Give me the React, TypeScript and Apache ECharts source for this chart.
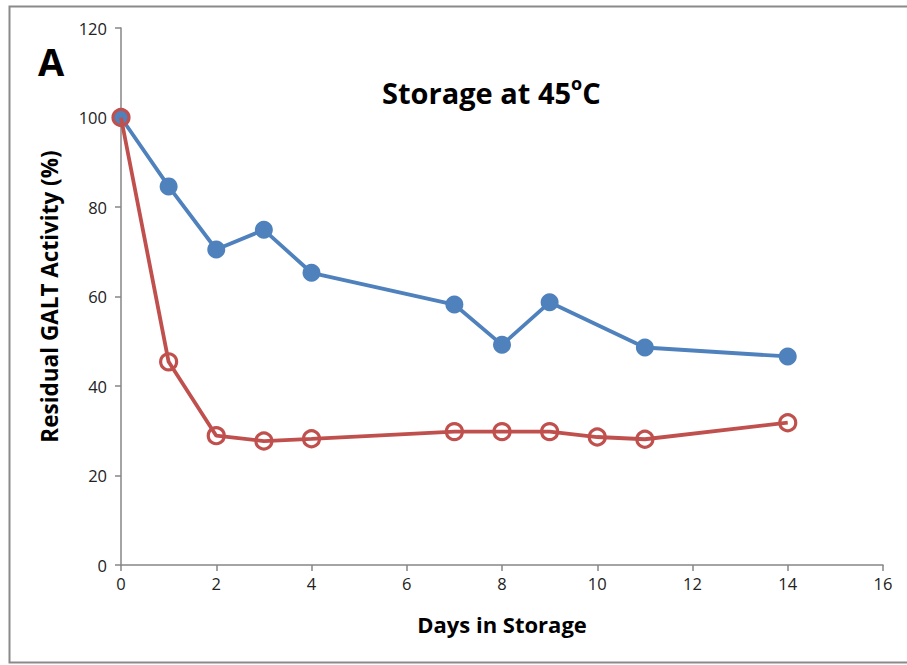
import React, { useEffect, useRef } from "react";
import * as echarts from "echarts";

const days = [0, 1, 2, 3, 4, 7, 8, 9, 10, 11, 14];
const blueDays = [0, 1, 2, 3, 4, 7, 8, 9, 11, 14];
const blueValues = [100, 84.6, 70.5, 74.9, 65.3, 58.2, 49.2, 58.7, 48.6, 46.6];
const redValues = [100, 45.4, 28.9, 27.7, 28.2, 29.8, 29.8, 29.8, 28.6, 28.1, 31.8];

const FONT = "'Open Sans', 'Noto Sans', sans-serif";

export default function App() {
  const ref = useRef<HTMLDivElement>(null);
  useEffect(() => {
    if (!ref.current) return;
    const chart = echarts.init(ref.current, null, { renderer: "svg" });
    chart.setOption({
      animation: false,
      backgroundColor: "#ffffff",
      grid: { left: 121, right: 24, top: 28, bottom: 100 },
      xAxis: {
        type: "value",
        min: 0,
        max: 16,
        interval: 2,
        axisLine: { show: true, lineStyle: { color: "#868686", width: 1.5 } },
        axisTick: { show: true, length: 6, lineStyle: { color: "#868686", width: 1.5 } },
        splitLine: { show: false },
        axisLabel: { color: "#222", fontSize: 16.5, fontFamily: FONT, margin: 10 },
        name: "Days in Storage",
        nameLocation: "middle",
        nameGap: 48,
        nameTextStyle: { color: "#000", fontSize: 22, fontWeight: "bold", fontFamily: FONT },
      },
      yAxis: {
        type: "value",
        min: 0,
        max: 120,
        interval: 20,
        axisLine: { show: true, lineStyle: { color: "#868686", width: 1.5 } },
        axisTick: { show: true, length: 6, lineStyle: { color: "#868686", width: 1.5 } },
        splitLine: { show: false },
        axisLabel: { color: "#222", fontSize: 16.5, fontFamily: FONT, margin: 14 },
        name: "Residual GALT Activity (%)",
        nameLocation: "middle",
        nameGap: 60,
        nameTextStyle: { color: "#000", fontSize: 22.5, fontWeight: "bold", fontFamily: FONT },
      },
      graphic: [
        {
          type: "rect",
          shape: { x: 9.5, y: 6.5, width: 920, height: 656 },
          style: { fill: "none", stroke: "#8a8a8a", lineWidth: 2 },
          silent: true,
        },
        {
          type: "text",
          left: 38,
          top: 42,
          style: { text: "A", fontSize: 38, fontWeight: "bold", fontFamily: FONT, fill: "#000" },
        },
        {
          type: "text",
          left: 382,
          top: 74,
          style: {
            text: "{m|Storage at 45}{s|o}{m|C}",
            rich: {
              m: { fontSize: 29, fontWeight: "bold", fontFamily: FONT, fill: "#000", verticalAlign: "bottom" },
              s: { fontSize: 18, fontWeight: "bold", fontFamily: FONT, fill: "#000", verticalAlign: "top", padding: [0, 0, 15, 0] },
            },
          },
        },
      ],
      series: [
        {
          type: "line",
          data: blueDays.map((d, i) => [d, blueValues[i]]),
          symbol: "circle",
          symbolSize: 18,
          lineStyle: { color: "#4F81BD", width: 3.8 },
          itemStyle: { color: "#4F81BD" },
          z: 2,
        },
        {
          type: "line",
          data: days.map((d, i) => [d, redValues[i]]),
          symbol: "circle",
          symbolSize: 16,
          lineStyle: { color: "#C0504D", width: 3.8 },
          itemStyle: { color: "rgba(0,0,0,0)", borderColor: "#C0504D", borderWidth: 3.2 },
          z: 3,
        },
      ],
    });
    return () => chart.dispose();
  }, []);
  return (
    <div
      ref={ref}
      style={{ position: "absolute", left: 0, top: 0, width: 907, height: 665 }}
    />
  );
}
